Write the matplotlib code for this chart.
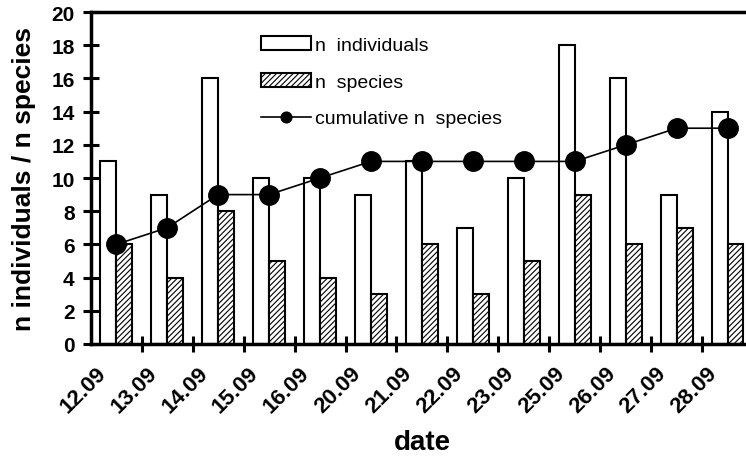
import numpy as np
import matplotlib
matplotlib.use('Agg')
import matplotlib.pyplot as plt
from matplotlib.transforms import ScaledTranslation

############### Data
dates = ['12.09', '13.09', '14.09', '15.09', '16.09', '20.09', '21.09',
         '22.09', '23.09', '25.09', '26.09', '27.09', '28.09']
n_individuals = [11, 9, 16, 10, 10, 9, 11, 7, 10, 18, 16, 9, 14]
n_species = [6, 4, 8, 5, 4, 3, 6, 3, 5, 9, 6, 7, 6]
cum_species = [6, 7, 9, 9, 10, 11, 11, 11, 11, 11, 12, 13, 13]

############### Style
plt.rcParams['font.family'] = ['Liberation Sans', 'DejaVu Sans']
plt.rcParams['hatch.linewidth'] = 0.8
plt.rcParams['hatch.color'] = '#333333'

fig = plt.figure(figsize=(7.46, 4.60), dpi=100)
ax = fig.add_axes([0.1216, 0.25, 0.888, 0.7217])

x = np.arange(len(dates))
w = 0.31
b1 = ax.bar(x - w, n_individuals, width=w, align='edge', color='white',
            edgecolor='black', linewidth=1.5, label='n  individuals', zorder=2)
b2 = ax.bar(x, n_species, width=w, align='edge', color='white',
            edgecolor='black', linewidth=1.5, hatch='//////', label='n  species', zorder=2)
l1, = ax.plot(x, cum_species, color='black', linewidth=1.2, marker='o',
              markersize=14, label='cumulative n  species', zorder=3)

############### Axes
ax.set_xlim(-0.5, len(dates) - 0.5)
ax.set_ylim(0, 20)
ax.set_yticks(np.arange(0, 21, 2))
ax.tick_params(axis='y', direction='inout', length=11, width=2.2,
               labelsize=15, pad=6)
for lab in ax.get_yticklabels():
    lab.set_fontweight('bold')

ax.set_xticks(x)
ax.set_xticklabels(dates, rotation=45, ha='right', va='top',
                   rotation_mode='anchor', fontsize=16, fontweight='bold')
ax.tick_params(axis='x', which='major', length=0, pad=13)
offset = ScaledTranslation(-15 / 72, 0, fig.dpi_scale_trans)
for lab in ax.get_xticklabels():
    lab.set_transform(lab.get_transform() + offset)
ax.set_xticks(x[:-1] + 0.5, minor=True)
ax.tick_params(axis='x', which='minor', direction='inout', length=11, width=2.2)

for s in ['left', 'bottom', 'top']:
    ax.spines[s].set_linewidth(2.5)
ax.spines['right'].set_visible(False)

ax.set_ylabel('n individuals / n species', fontsize=19, fontweight='bold', labelpad=11)
ax.set_xlabel('date', fontsize=20, fontweight='bold', labelpad=9)

ax.legend([b1, b2, l1], [b1.get_label(), b2.get_label(), l1.get_label()],
          loc='upper left', bbox_to_anchor=(0.245, 0.95), frameon=False,
          fontsize=14, handlelength=2.6, handletextpad=0.2, labelspacing=0.98,
          markerscale=0.55, borderaxespad=0)

plt.savefig('out.png', dpi=100)
